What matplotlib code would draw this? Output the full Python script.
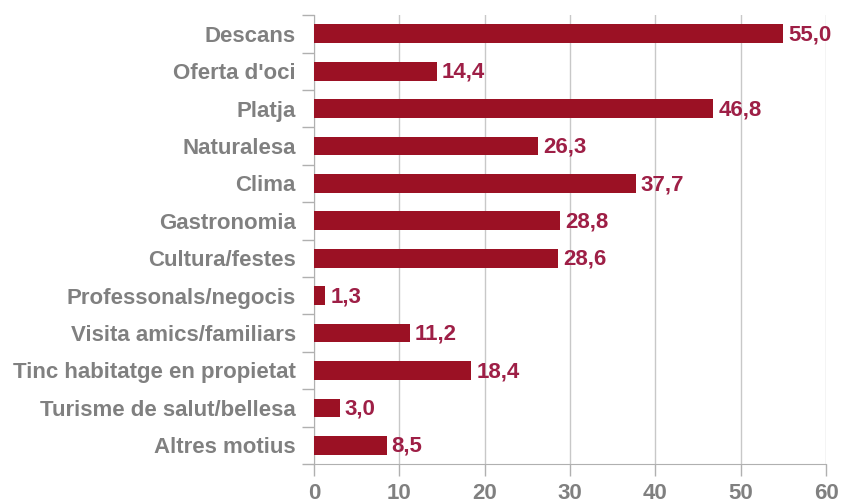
import numpy as np
import matplotlib.pyplot as plt

categories = ['Descans', "Oferta d'oci", 'Platja', 'Naturalesa', 'Clima', 'Gastronomia',
              'Cultura/festes', 'Professonals/negocis', 'Visita amics/familiars',
              'Tinc habitatge en propietat', 'Turisme de salut/bellesa', 'Altres motius']
values = [55.0, 14.4, 46.8, 26.3, 37.7, 28.8, 28.6, 1.3, 11.2, 18.4, 3.0, 8.5]
xticks = [0, 10, 20, 30, 40, 50, 60]

plt.rcParams['font.family'] = ['Liberation Sans', 'DejaVu Sans']
grey = '#808080'
bar_col = '#9B1124'
lab_col = '#9E1F46'
fs = 16

fig = plt.figure(figsize=(8.41, 5.04), dpi=100)
ax = fig.add_axes([0.3734, 0.0794, 0.6088, 0.8906])

y = np.arange(len(categories))
ax.barh(y, values, height=0.5, color=bar_col, zorder=3)
for yi, v in zip(y, values):
    ax.text(v + 0.6, yi + 0.03, f'{v:.1f}'.replace('.', ','), va='center', ha='left',
            color=lab_col, fontsize=fs, fontweight='bold', zorder=4)

ax.set_ylim(len(categories) - 0.5, -0.5)
ax.set_xlim(0, 60)
ax.set_yticks(y)
ax.set_yticklabels(categories, fontsize=fs, fontweight='bold', color=grey)
ax.set_yticks(np.arange(-0.5, len(categories)), minor=True)
ax.tick_params(axis='y', which='major', length=0, pad=13)
ax.tick_params(axis='y', which='minor', length=8.6, color='#b0b0b0', width=1)
ax.set_xticks(xticks)
ax.set_xticklabels([str(t) for t in xticks], fontsize=fs, fontweight='bold', color=grey)
ax.tick_params(axis='x', length=8.6, color='#b0b0b0', width=1, pad=5)
ax.grid(axis='x', color='#c8c8c8', linewidth=1, zorder=0)
for s in ['top', 'right']:
    ax.spines[s].set_visible(False)
for s in ['left', 'bottom']:
    ax.spines[s].set_color('#b0b0b0')

fig.savefig('out.png', dpi=100)
